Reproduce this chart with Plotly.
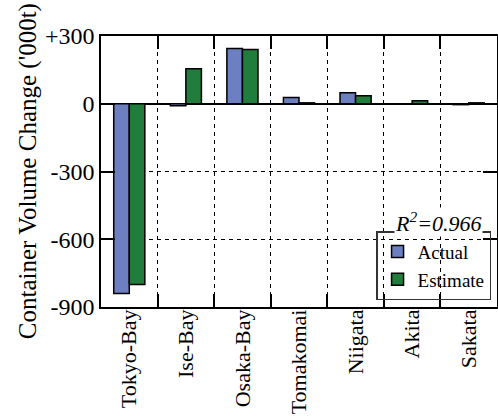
import plotly.graph_objects as go

# Container volume change by port region ('000 t)
ports = ["Tokyo-Bay", "Ise-Bay", "Osaka-Bay", "Tomakomai", "Niigata", "Akita", "Sakata"]
actual = [-840, -9, 245, 28, 49, 0, -4]
estimate = [-800, 155, 240, 4, 35, 13, 4]

y_ticks = [300, 0, -300, -600, -900]
y_tick_text = ["+300", "0", "-300", "-600", "-900"]
r_squared = "0.966"
y_title = "Container Volume Change ('000t)"

FONT = "Liberation Serif"
BLUE = "#6b7fc1"
GREEN = "#217d3b"

fig = go.Figure()
fig.add_trace(go.Bar(
    x=ports, y=actual, name="Actual",
    marker=dict(color=BLUE, line=dict(color="black", width=1.5)),
))
fig.add_trace(go.Bar(
    x=ports, y=estimate, name="Estimate",
    marker=dict(color=GREEN, line=dict(color="black", width=1.5)),
))

fig.update_layout(
    width=498, height=416,
    margin=dict(l=101, r=1, t=36, b=109, autoexpand=False),
    paper_bgcolor="white", plot_bgcolor="white",
    font=dict(family=FONT, size=22, color="black"),
    barmode="group", bargap=0.45, bargroupgap=0,
    showlegend=True,
    legend=dict(
        x=0.985, y=0.025, xanchor="right", yanchor="bottom",
        bgcolor="rgba(0,0,0,0)", bordercolor="#333333", borderwidth=1.5,
        font=dict(family=FONT, size=19, color="black"),
        tracegroupgap=0, itemwidth=30,
    ),
)

fig.update_xaxes(
    type="category", tickangle=-90, automargin=False, ticklabelstandoff=-8,
    tickson="boundaries", ticks="inside", ticklen=13, tickwidth=1.5, tickcolor="black",
    showline=True, linecolor="black", linewidth=1.5, mirror="allticks",
    showgrid=True, gridcolor="black", gridwidth=1, griddash="4px,4px",
    tickfont=dict(family=FONT, size=22, color="black"),
)
fig.update_yaxes(
    range=[-900, 300], tickvals=y_ticks, ticktext=y_tick_text, automargin=False,
    ticks="inside", ticklen=14, tickwidth=1.5, tickcolor="black",
    showline=True, linecolor="black", linewidth=1.5, mirror="allticks",
    showgrid=True, gridcolor="black", gridwidth=1, griddash="4px,4px",
    zeroline=True, zerolinecolor="black", zerolinewidth=1.5,
    tickfont=dict(family=FONT, size=24, color="black"),
)

# vertical axis title, placed beside the tick labels
fig.add_annotation(
    x=-0.185, y=0.5, xref="paper", yref="paper",
    xanchor="center", yanchor="middle", textangle=-90,
    text=y_title, showarrow=False,
    font=dict(family=FONT, size=25, color="black"),
)

fig.add_annotation(
    x=0.965, y=-525, xref="paper", yref="y",
    xanchor="right", yanchor="middle",
    text="<i>R<sup>2</sup>=" + r_squared + "</i>",
    showarrow=False, bgcolor="white", borderpad=0,
    font=dict(family=FONT, size=22, color="black"),
)

fig.write_html("out.html")
